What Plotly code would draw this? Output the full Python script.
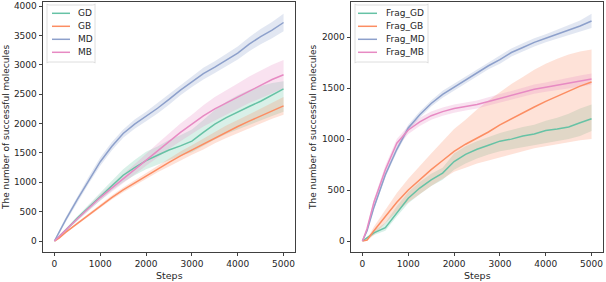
import plotly.graph_objects as go

steps = [0, 100, 250, 500, 750, 1000, 1250, 1500, 1750, 2000, 2250, 2500, 2750,
         3000, 3250, 3500, 3750, 4000, 4250, 4500, 4750, 5000]

# Left panel
GD = [0, 70, 190, 390, 570, 750, 940, 1120, 1250, 1370, 1460, 1550, 1620, 1700, 1850, 1990, 2100, 2200, 2290, 2380, 2480, 2590]
GD_lo = [0, 60, 170, 350, 520, 690, 860, 1000, 1120, 1220, 1300, 1380, 1450, 1510, 1620, 1730, 1820, 1900, 1980, 2060, 2130, 2200]
GD_hi = [0, 80, 210, 420, 620, 820, 1030, 1220, 1380, 1520, 1610, 1720, 1800, 1900, 2060, 2230, 2370, 2480, 2570, 2640, 2690, 2720]
GB = [0, 50, 150, 300, 450, 600, 740, 870, 990, 1110, 1230, 1340, 1450, 1550, 1650, 1760, 1860, 1950, 2040, 2130, 2220, 2300]
GB_lo = [0, 40, 135, 280, 425, 570, 705, 830, 945, 1060, 1170, 1270, 1375, 1470, 1560, 1665, 1755, 1840, 1920, 2000, 2080, 2150]
GB_hi = [0, 60, 165, 320, 475, 630, 775, 910, 1035, 1160, 1290, 1410, 1525, 1630, 1740, 1855, 1965, 2060, 2160, 2260, 2360, 2450]
MD = [0, 150, 370, 710, 1040, 1350, 1610, 1830, 1990, 2120, 2260, 2410, 2570, 2710, 2850, 2960, 3080, 3200, 3350, 3480, 3590, 3720]
MD_lo = [0, 120, 330, 660, 980, 1280, 1540, 1760, 1910, 2040, 2170, 2320, 2480, 2620, 2750, 2860, 2980, 3090, 3230, 3350, 3450, 3570]
MD_hi = [0, 180, 410, 760, 1100, 1420, 1680, 1900, 2070, 2200, 2350, 2500, 2660, 2800, 2950, 3060, 3180, 3310, 3470, 3610, 3730, 3870]
MB = [0, 70, 190, 380, 560, 740, 900, 1060, 1220, 1380, 1540, 1700, 1850, 1990, 2130, 2250, 2350, 2450, 2560, 2660, 2750, 2830]
MB_lo = [0, 60, 170, 350, 520, 690, 840, 980, 1130, 1280, 1420, 1570, 1700, 1830, 1950, 2050, 2150, 2250, 2350, 2430, 2510, 2600]
MB_hi = [0, 80, 210, 410, 600, 790, 960, 1140, 1310, 1480, 1660, 1830, 2000, 2150, 2310, 2450, 2560, 2680, 2800, 2900, 3000, 3080]

# Right panel
F_GD = [0, 30, 80, 130, 280, 420, 520, 600, 666, 780, 850, 900, 940, 980, 1000, 1030, 1050, 1085, 1100, 1120, 1160, 1200]
F_GD_lo = [0, 20, 60, 100, 240, 370, 460, 540, 600, 700, 760, 810, 850, 880, 900, 920, 940, 960, 980, 1000, 1030, 1080]
F_GD_hi = [0, 40, 100, 180, 340, 480, 580, 660, 720, 860, 930, 980, 1020, 1060, 1090, 1120, 1140, 1180, 1210, 1250, 1300, 1340]
F_GB = [0, 10, 100, 240, 380, 500, 600, 700, 790, 880, 950, 1010, 1070, 1140, 1200, 1260, 1315, 1370, 1420, 1470, 1520, 1560]
F_GB_lo = [0, 0, 60, 180, 290, 380, 460, 540, 610, 680, 720, 760, 790, 820, 850, 880, 910, 930, 950, 970, 990, 1000]
F_GB_hi = [0, 20, 140, 310, 470, 610, 740, 860, 980, 1100, 1190, 1290, 1380, 1460, 1540, 1610, 1680, 1740, 1790, 1830, 1860, 1880]
F_MD = [0, 100, 330, 650, 900, 1110, 1240, 1350, 1440, 1510, 1580, 1650, 1720, 1780, 1850, 1900, 1950, 1990, 2030, 2070, 2110, 2160]
F_MD_lo = [0, 90, 310, 625, 870, 1080, 1210, 1320, 1405, 1475, 1545, 1615, 1685, 1740, 1810, 1860, 1910, 1950, 1985, 2020, 2055, 2090]
F_MD_hi = [0, 110, 350, 675, 930, 1140, 1270, 1380, 1475, 1545, 1615, 1685, 1755, 1820, 1890, 1940, 1990, 2030, 2075, 2120, 2165, 2230]
F_MB = [0, 120, 380, 700, 960, 1090, 1170, 1230, 1270, 1300, 1320, 1340, 1370, 1400, 1430, 1460, 1490, 1510, 1530, 1550, 1570, 1590]
F_MB_lo = [0, 105, 350, 660, 920, 1050, 1130, 1190, 1230, 1260, 1280, 1300, 1330, 1360, 1390, 1420, 1445, 1465, 1480, 1500, 1515, 1535]
F_MB_hi = [0, 135, 410, 740, 1000, 1130, 1210, 1270, 1310, 1340, 1360, 1380, 1410, 1440, 1470, 1500, 1535, 1555, 1580, 1600, 1625, 1645]

x_ticks = [0, 1000, 2000, 3000, 4000, 5000]
y_ticks_left = [0, 500, 1000, 1500, 2000, 2500, 3000, 3500, 4000]
y_ticks_right = [0, 500, 1000, 1500, 2000]

colors = ["#66c2a5", "#fc8d62", "#8da0cb", "#e78ac3"]
fills = ["rgba(102,194,165,0.25)", "rgba(252,141,98,0.25)",
         "rgba(141,160,203,0.25)", "rgba(231,138,195,0.25)"]

left = [("GD", GD, GD_lo, GD_hi), ("GB", GB, GB_lo, GB_hi),
        ("MD", MD, MD_lo, MD_hi), ("MB", MB, MB_lo, MB_hi)]
right = [("Frag_GD", F_GD, F_GD_lo, F_GD_hi), ("Frag_GB", F_GB, F_GB_lo, F_GB_hi),
         ("Frag_MD", F_MD, F_MD_lo, F_MD_hi), ("Frag_MB", F_MB, F_MB_lo, F_MB_hi)]

W = 606.0
H = 282.0

fig = go.Figure()
for panel, xa, ya in [(left, "x", "y"), (right, "x2", "y2")]:
    for i, (name, m, lo, hi) in enumerate(panel):
        fig.add_trace(go.Scatter(x=steps, y=lo, mode="lines", line=dict(width=0),
                                 showlegend=False, hoverinfo="skip", xaxis=xa, yaxis=ya))
        fig.add_trace(go.Scatter(x=steps, y=hi, mode="lines", line=dict(width=0),
                                 fill="tonexty", fillcolor=fills[i], showlegend=False,
                                 hoverinfo="skip", xaxis=xa, yaxis=ya))
    for i, (name, m, lo, hi) in enumerate(panel):
        fig.add_trace(go.Scatter(x=steps, y=m, mode="lines", name=name,
                                 line=dict(color=colors[i], width=1.5),
                                 showlegend=False, xaxis=xa, yaxis=ya))

axis_common = dict(showline=True, mirror=True, linecolor="#404040", linewidth=0.8,
                   ticks="outside", ticklen=3.5, tickwidth=0.8, tickcolor="#404040",
                   showgrid=False, zeroline=False, automargin=False,
                   tickfont=dict(family="DejaVu Sans", size=9, color="#262626"))

# Legend boxes drawn in paper space (matplotlib-style compact legend)
shapes = []
annotations = []


def rounded_box(x0, y0, x1, y1, r=2.5):
    return (f"M {x0 + r},{y0} L {x1 - r},{y0} Q {x1},{y0} {x1},{y0 + r} "
            f"L {x1},{y1 - r} Q {x1},{y1} {x1 - r},{y1} L {x0 + r},{y1} "
            f"Q {x0},{y1} {x0},{y1 - r} L {x0},{y0 + r} Q {x0},{y0} {x0 + r},{y0} Z")


for panel, bx0, bx1, sw0, sw1, tx in [(left, 47, 95, 52, 70, 76),
                                       (right, 355, 428, 358, 377, 384)]:
    shapes.append(dict(type="path", xref="paper", yref="paper", layer="above",
                       path=rounded_box(bx0 / W, 1 - 5 / H, bx1 / W, 1 - 62 / H, 0.004),
                       line=dict(color="#d6d6d6", width=0.8), fillcolor="rgba(255,255,255,0.8)"))
    for i, (name, m, lo, hi) in enumerate(panel):
        yy = 1 - (13.3 + 13 * i) / H
        shapes.append(dict(type="line", xref="paper", yref="paper", layer="above",
                           x0=sw0 / W, x1=sw1 / W, y0=yy, y1=yy,
                           line=dict(color=colors[i], width=1.5)))
        annotations.append(dict(text=name, x=tx / W, y=yy, xref="paper", yref="paper",
                                xanchor="left", yanchor="middle", showarrow=False,
                                font=dict(family="DejaVu Sans", size=9, color="#262626")))

annotations += [
    dict(text="The number of successful molecules", x=6 / W, y=1 - 127 / H, xref="paper", yref="paper",
         xanchor="center", yanchor="middle",
         textangle=-90, showarrow=False, font=dict(size=9)),
    dict(text="The number of successful molecules", x=313 / W, y=1 - 127 / H, xref="paper", yref="paper",
         xanchor="center", yanchor="middle",
         textangle=-90, showarrow=False, font=dict(size=9)),
    dict(text="Steps", x=169 / W, y=1 - 275 / H, xref="paper", yref="paper",
         xanchor="center", yanchor="middle", showarrow=False, font=dict(size=9.5)),
    dict(text="Steps", x=477 / W, y=1 - 275 / H, xref="paper", yref="paper",
         xanchor="center", yanchor="middle", showarrow=False, font=dict(size=9.5)),
]

fig.update_layout(
    template="none",
    width=606, height=282,
    margin=dict(l=0, r=0, t=0, b=0),
    paper_bgcolor="white", plot_bgcolor="white",
    showlegend=False,
    font=dict(family="DejaVu Sans", size=9, color="#262626"),
    xaxis=dict(domain=[43 / W, 295 / W], range=[-250, 5250], tickvals=x_ticks,
               anchor="y", **axis_common),
    yaxis=dict(domain=[1 - 252 / H, 1 - 2 / H], range=[-187, 4069],
               tickvals=y_ticks_left, anchor="x", **axis_common),
    xaxis2=dict(domain=[351 / W, 603 / W], range=[-250, 5250], tickvals=x_ticks,
                anchor="y2", **axis_common),
    yaxis2=dict(domain=[1 - 252 / H, 1 - 2 / H], range=[-108, 2346],
                tickvals=y_ticks_right, anchor="x2", **axis_common),
    shapes=shapes,
    annotations=annotations,
)

fig.write_html("out.html", config={"displayModeBar": False},
               post_script="document.body.style.margin='0px';document.body.style.overflow='hidden';")
